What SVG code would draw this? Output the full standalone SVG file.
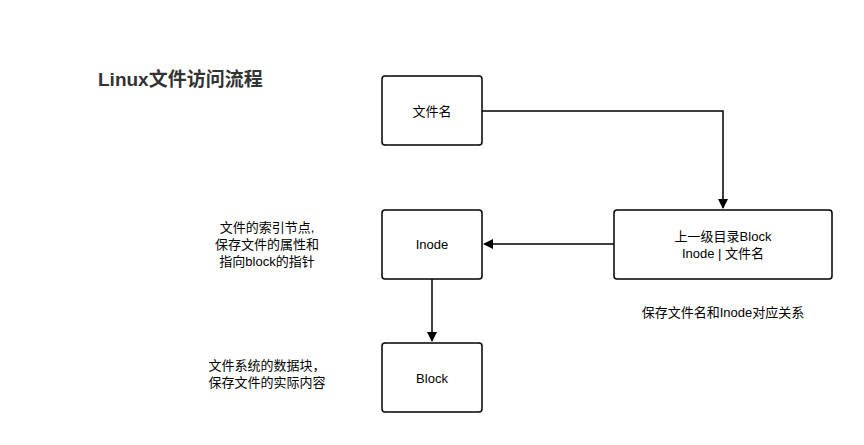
<svg xmlns="http://www.w3.org/2000/svg" width="864" height="445" viewBox="0 0 864 445">
<style>
.box{fill:#fff;stroke:#000;stroke-width:1.5}
text{font-family:"Liberation Sans","Noto Sans CJK SC",sans-serif;font-size:13px;fill:#000}
.c{text-anchor:middle}
.ln{fill:none;stroke:#000;stroke-width:1.5}
</style>
<defs><marker id="a" markerWidth="10" markerHeight="10" refX="9" refY="5" orient="auto" markerUnits="userSpaceOnUse"><path d="M0,0 L10,5 L0,10 Z" fill="#000"/></marker></defs>
<rect width="864" height="445" fill="#fff"/>
<text x="98" y="86" style="font-size:19px;font-weight:bold;fill:#333">Linux文件访问流程</text>
<g id="n1"><rect class="box" x="382" y="76" width="100" height="69" rx="3"/><text class="c" x="432" y="116">文件名</text></g>
<g id="n2"><rect class="box" x="382" y="210" width="100" height="69" rx="3"/><text class="c" x="432" y="249">Inode</text></g>
<g id="n3"><rect class="box" x="382" y="343" width="100" height="69" rx="3"/><text class="c" x="432" y="383">Block</text></g>
<g id="n4"><rect class="box" x="614" y="210" width="218" height="69" rx="3"/><text class="c" x="723" y="241">上一级目录Block</text><text class="c" x="723" y="258">Inode |  文件名</text></g>
<g id="labels">
<text class="c" x="267" y="232">文件的索引节点,</text>
<text class="c" x="267" y="249">保存文件的属性和</text>
<text class="c" x="267" y="266">指向block的指针</text>
<text class="c" x="267" y="370">文件系统的数据块，</text>
<text class="c" x="267" y="387">保存文件的实际内容</text>
<text class="c" x="723" y="317">保存文件名和Inode对应关系</text>
</g>
<g id="connectors">
<path class="ln" d="M482,111 H723 V208" marker-end="url(#a)"/>
<path class="ln" d="M614,244 H484" marker-end="url(#a)"/>
<path class="ln" d="M432,279 V341" marker-end="url(#a)"/>
</g>
</svg>
